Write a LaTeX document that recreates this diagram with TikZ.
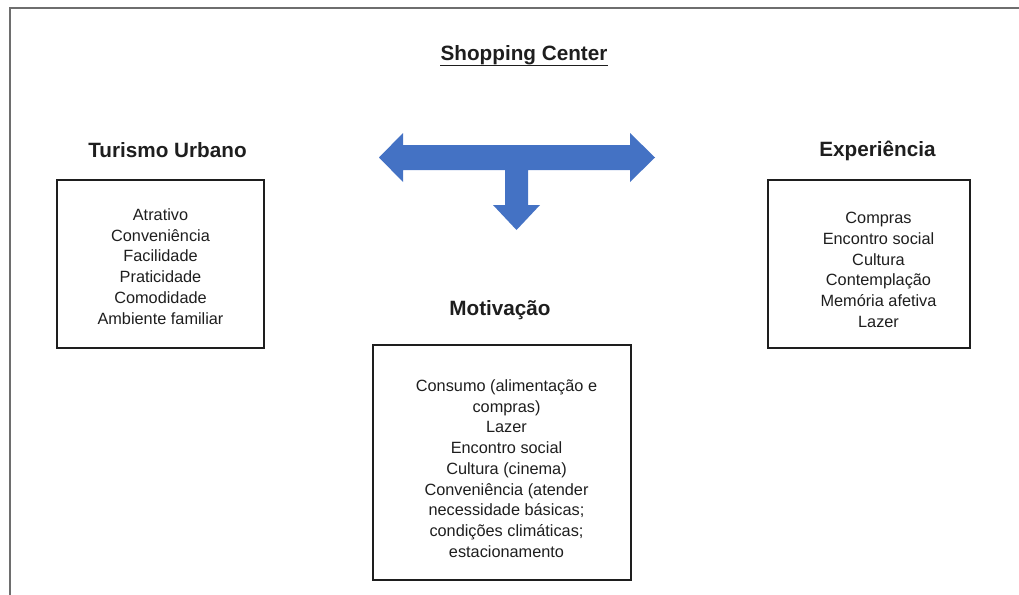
\documentclass[tikz,border=0pt]{standalone}
\usepackage{fontspec}
\setmainfont{Liberation Sans}
\usepackage{xcolor}
\usepackage{tikz}
\usetikzlibrary{positioning}

\definecolor{arrowblue}{HTML}{4472C4}
\definecolor{framegray}{HTML}{6E6E6E}
\definecolor{inkgray}{HTML}{1E1E1E}

\begin{document}
\begin{tikzpicture}[x=1pt, y=-1pt, node distance=22pt,
    box/.style={rectangle, draw=inkgray, line width=1.1pt, inner sep=0pt},
    title/.style={font=\fontsize{20.7}{24}\selectfont\bfseries, text=inkgray, inner sep=0pt, text depth=0pt},
    items/.style={align=center, font=\fontsize{16.3}{20.7}\selectfont, text=inkgray, inner sep=0pt}]
    \useasboundingbox (0,0) rectangle (1019,594);
    \draw [framegray, line width=2pt] (10,610) -- (10,8) -- (1030,8);

    % the three boxes
    \node (turismo) [box, minimum width=207pt, minimum height=168pt] at (160.5,264) {};
    \node (experiencia) [box, minimum width=202pt, minimum height=168pt] at (869,264) {};
    \node (motivacao) [box, minimum width=258pt, minimum height=235pt] at (502,462.5) {};

    % titles
    \node (shopping) [title, anchor=base] at (524,60) {Shopping Center};
    \draw [inkgray, line width=1.7pt] ([yshift=-5.5pt]shopping.base west) -- ([yshift=-5.5pt]shopping.base east);
    \node (turismoT) [title, above=of turismo, xshift=7pt] {Turismo Urbano};
    \node (experienciaT) [title, above=23pt of experiencia, xshift=8.5pt] {Experiência};
    \node (motivacaoT) [title, above=29pt of motivacao, xshift=-2pt] {Motivação};

    % contents
    \node (turismoL) [items, yshift=-2.5pt] at (turismo.center) {Atrativo\\Conveniência\\Facilidade\\Praticidade\\Comodidade\\Ambiente familiar};
    \node (experienciaL) [items, xshift=9.5pt, yshift=-6pt] at (experiencia.center) {Compras\\Encontro social\\Cultura\\Contemplação\\Memória afetiva\\Lazer};
    \node (motivacaoL) [items, xshift=4.5pt, yshift=-6pt] at (motivacao.center) {Consumo (alimentação e\\compras)\\Lazer\\Encontro social\\Cultura (cinema)\\Conveniência (atender\\necessidade básicas;\\condições climáticas;\\estacionamento};

    % block arrow
    \fill [arrowblue] (379,157.5) -- (403,133) -- (403,145) -- (630,145) -- (630,133)
        -- (655,157.5) -- (630,182) -- (630,170) -- (528,170) -- (528,205) -- (540,205)
        -- (516.5,230) -- (493,205) -- (505,205) -- (505,170) -- (403,170) -- (403,182) -- cycle;
\end{tikzpicture}
\end{document}
